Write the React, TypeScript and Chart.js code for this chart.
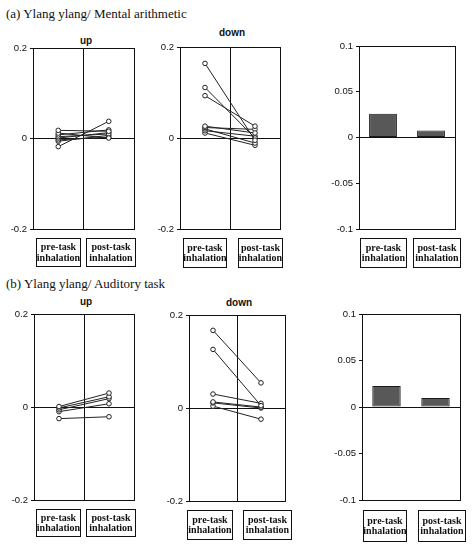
import React, { useEffect, useRef } from "react";
import { Chart, registerables } from "chart.js";

Chart.register(...registerables);

// ---- data ----
const categories = ["pre-task inhalation", "post-task inhalation"];
const categoryLines = [
  ["pre-task", "inhalation"],
  ["post-task", "inhalation"],
];
const lineTicks = [-0.2, 0, 0.2];
const barTicks = [-0.1, -0.05, 0, 0.05, 0.1];

// (a) Ylang ylang / Mental arithmetic
const aUpPre = [0.018, 0.012, 0.008, 0.004, 0.001, -0.003, -0.006, -0.018];
const aUpPost = [0.016, 0.001, 0.019, 0.01, 0.013, 0.003, 0.007, 0.038];
const aDownPre = [0.164, 0.111, 0.093, 0.026, 0.023, 0.02, 0.016, 0.011];
const aDownPost = [-0.005, 0.0, 0.026, 0.011, 0.019, -0.011, 0.004, -0.016];
const aMean = [0.026, 0.0077];

// (b) Ylang ylang / Auditory task
const bUpPre = [0.001, -0.002, -0.006, -0.01, -0.025];
const bUpPost = [0.03, 0.022, 0.018, 0.007, -0.021];
const bDownPre = [0.167, 0.126, 0.03, 0.013, 0.011, 0.004];
const bDownPost = [0.054, 0.005, 0.01, 0.002, 0.0, -0.024];
const bMean = [0.0226, 0.0097];

const SANS = "'Liberation Sans', Arial, sans-serif";
const SERIF = "'Liberation Serif', 'Times New Roman', serif";

const boxPlugin = {
  id: "frameBox",
  afterDraw(chart: any) {
    const { ctx, chartArea } = chart;
    ctx.save();
    ctx.strokeStyle = "#111";
    ctx.lineWidth = 1;
    ctx.strokeRect(
      Math.round(chartArea.left) + 0.5,
      Math.round(chartArea.top) + 0.5,
      Math.round(chartArea.right - chartArea.left),
      Math.round(chartArea.bottom - chartArea.top)
    );
    ctx.restore();
  },
};

type Box = { l: number; t: number; r: number; b: number };

function fmt(v: number) {
  if (Math.abs(v) < 1e-9) return "0";
  return String(Number(v.toFixed(2)));
}

function yScale(ticks: number[], yw: number) {
  return {
    min: ticks[0],
    max: ticks[ticks.length - 1],
    afterBuildTicks: (s: any) => {
      s.ticks = ticks.map((v) => ({ value: v }));
    },
    afterFit: (s: any) => {
      s.width = yw;
    },
    border: { display: false },
    grid: {
      color: (c: any) =>
        c.tick && Math.abs(c.tick.value) < 1e-9 ? "#111" : "rgba(0,0,0,0)",
      tickColor: "#111",
      tickLength: 3,
      drawTicks: true,
      lineWidth: 1,
    },
    ticks: {
      color: "#111",
      padding: 3,
      font: { family: SANS, size: 9.5 },
      callback: (v: any) => fmt(Number(v)),
    },
  };
}

function LineChart({ box, pre, post }: { box: Box; pre: number[]; post: number[] }) {
  const ref = useRef<HTMLCanvasElement | null>(null);
  const YW = 30;
  const w = YW + (box.r - box.l) + 2;
  const h = box.b - box.t + 20;
  useEffect(() => {
    if (!ref.current) return;
    const datasets = pre.map((p, i) => ({
      data: [
        { x: 1, y: p },
        { x: 3, y: post[i] },
      ],
      borderColor: "#222",
      borderWidth: 1,
      pointRadius: 2.3,
      pointBorderWidth: 1,
      pointBackgroundColor: "#fff",
      pointBorderColor: "#222",
      showLine: true,
    }));
    const chart = new Chart(ref.current, {
      type: "scatter",
      data: { datasets },
      options: {
        animation: false,
        responsive: false,
        layout: { padding: { top: 10, bottom: 10, left: 0, right: 2 } },
        plugins: { legend: { display: false }, tooltip: { enabled: false } },
        scales: {
          x: {
            type: "linear",
            min: 0,
            max: 4,
            afterBuildTicks: (s: any) => {
              s.ticks = [{ value: 2 }];
            },
            afterFit: (s: any) => {
              s.height = 0;
            },
            border: { display: false },
            grid: { color: "#111", drawTicks: false, lineWidth: 1 },
            ticks: { display: false },
          },
          y: yScale(lineTicks, YW) as any,
        },
      },
      plugins: [boxPlugin],
    } as any);
    return () => chart.destroy();
  }, []);
  return (
    <canvas
      ref={ref}
      width={w}
      height={h}
      style={{ position: "absolute", left: box.l - YW, top: box.t - 10, width: w, height: h }}
    />
  );
}

function BarChart({ box, values }: { box: Box; values: number[] }) {
  const ref = useRef<HTMLCanvasElement | null>(null);
  const YW = 40;
  const w = YW + (box.r - box.l) + 2;
  const h = box.b - box.t + 20;
  useEffect(() => {
    if (!ref.current) return;
    const chart = new Chart(ref.current, {
      type: "bar",
      data: {
        labels: categories,
        datasets: [
          {
            data: values,
            backgroundColor: "#585858",
            borderColor: "#1a1a1a",
            borderWidth: 1,
            borderSkipped: false,
            barPercentage: 0.58,
            categoryPercentage: 1,
          },
        ],
      },
      options: {
        animation: false,
        responsive: false,
        layout: { padding: { top: 10, bottom: 10, left: 0, right: 2 } },
        plugins: { legend: { display: false }, tooltip: { enabled: false } },
        scales: {
          x: {
            type: "category",
            offset: true,
            afterFit: (s: any) => {
              s.height = 0;
            },
            border: { display: false },
            grid: { display: false, drawTicks: false },
            ticks: { display: false },
          },
          y: yScale(barTicks, YW) as any,
        },
      },
      plugins: [boxPlugin],
    } as any);
    return () => chart.destroy();
  }, []);
  return (
    <canvas
      ref={ref}
      width={w}
      height={h}
      style={{ position: "absolute", left: box.l - YW, top: box.t - 10, width: w, height: h }}
    />
  );
}

function LabelBox({ l, r, t, b, lines }: { l: number; r: number; t: number; b: number; lines: string[] }) {
  return (
    <div
      style={{
        position: "absolute",
        left: l,
        top: t,
        width: r - l,
        height: b - t,
        border: "1px solid #111",
        boxSizing: "border-box",
        display: "flex",
        flexDirection: "column",
        alignItems: "center",
        justifyContent: "center",
        fontFamily: SERIF,
        fontWeight: "bold",
        fontSize: 10,
        lineHeight: "10.5px",
        color: "#111",
        whiteSpace: "nowrap",
      }}
    >
      {lines.map((s, i) => (
        <span key={i}>{s}</span>
      ))}
    </div>
  );
}

function PanelTitle({ cx, cy, text }: { cx: number; cy: number; text: string }) {
  return (
    <div
      style={{
        position: "absolute",
        left: cx - 40,
        top: cy - 7,
        width: 80,
        height: 14,
        lineHeight: "14px",
        textAlign: "center",
        fontFamily: SANS,
        fontSize: 10,
        fontWeight: "bold",
        color: "#111",
      }}
    >
      {text}
    </div>
  );
}

function Heading({ y, text }: { y: number; text: string }) {
  return (
    <div
      style={{
        position: "absolute",
        left: 6,
        top: y - 8,
        height: 16,
        lineHeight: "16px",
        fontFamily: SERIF,
        fontSize: 13,
        color: "#111",
        whiteSpace: "nowrap",
      }}
    >
      {text}
    </div>
  );
}

const panels = {
  aUp: { l: 33, t: 48, r: 137, b: 229 },
  aDown: { l: 180, t: 47, r: 283, b: 229 },
  aBar: { l: 359, t: 46, r: 455, b: 229 },
  bUp: { l: 34, t: 314, r: 137, b: 500 },
  bDown: { l: 189, t: 315, r: 288, b: 501 },
  bBar: { l: 362, t: 314, r: 460, b: 500 },
};

const labelBoxes = [
  { l: 36, r: 81, t: 238, b: 267, k: 0 },
  { l: 86, r: 136, t: 238, b: 267, k: 1 },
  { l: 183, r: 227, t: 238, b: 268, k: 0 },
  { l: 238, r: 283, t: 238, b: 268, k: 1 },
  { l: 360, r: 407, t: 238, b: 268, k: 0 },
  { l: 413, r: 461, t: 238, b: 268, k: 1 },
  { l: 36, r: 81, t: 509, b: 537, k: 0 },
  { l: 86, r: 136, t: 509, b: 537, k: 1 },
  { l: 187, r: 233, t: 510, b: 540, k: 0 },
  { l: 243, r: 292, t: 510, b: 540, k: 1 },
  { l: 363, r: 407, t: 510, b: 542, k: 0 },
  { l: 418, r: 466, t: 510, b: 542, k: 1 },
];

export default function App() {
  return (
    <div
      style={{
        position: "absolute",
        left: 0,
        top: 0,
        width: 475,
        height: 550,
        background: "#fff",
        overflow: "hidden",
      }}
    >
      <Heading y={14} text="(a) Ylang ylang/ Mental arithmetic" />
      <Heading y={284} text="(b) Ylang ylang/ Auditory task" />

      <PanelTitle cx={86} cy={41} text="up" />
      <PanelTitle cx={232} cy={33} text="down" />
      <PanelTitle cx={86} cy={302} text="up" />
      <PanelTitle cx={239} cy={303} text="down" />

      <LineChart box={panels.aUp} pre={aUpPre} post={aUpPost} />
      <LineChart box={panels.aDown} pre={aDownPre} post={aDownPost} />
      <BarChart box={panels.aBar} values={aMean} />
      <LineChart box={panels.bUp} pre={bUpPre} post={bUpPost} />
      <LineChart box={panels.bDown} pre={bDownPre} post={bDownPost} />
      <BarChart box={panels.bBar} values={bMean} />

      {labelBoxes.map((lb, i) => (
        <LabelBox key={i} l={lb.l} r={lb.r} t={lb.t} b={lb.b} lines={categoryLines[lb.k]} />
      ))}
    </div>
  );
}
